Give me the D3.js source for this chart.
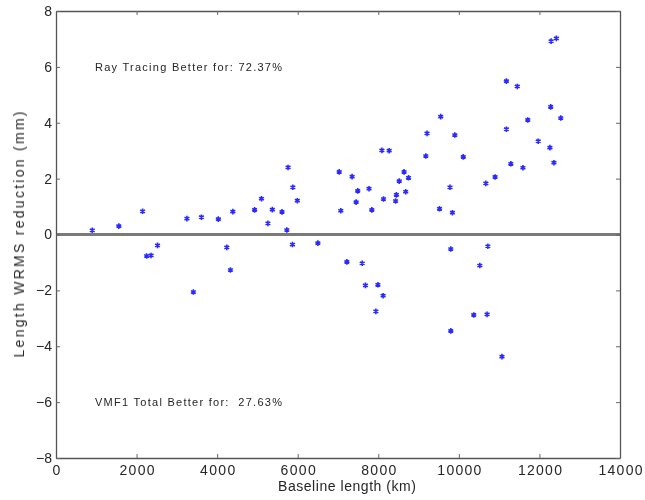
<!DOCTYPE html>
<html>
<head>
<meta charset="utf-8">
<script src="https://cdn.jsdelivr.net/npm/d3@7"></script>
<style>
  html, body { margin: 0; padding: 0; background: #fff; }
  svg { display: block; }
  text { font-family: "Liberation Sans", Arial, sans-serif; fill: #262626; }
</style>
</head>
<body>
<svg id="chart" width="645" height="500"></svg>
<script>
// Baseline length (km) for each baseline
const baselineKm = [
  900, 1560, 2150, 2250, 2360, 2520, 3250, 3410, 3610, 4030,
  4240, 4330, 4390, 4930, 5100, 5260, 5370, 5610, 5760, 5730,
  5880, 5870, 5990, 6500, 7030, 7350, 7070, 7490, 7450, 7770,
  7840, 8090, 8270, 8130, 8450, 8430, 8520, 8640, 8750, 8680,
  9210, 9900, 9180, 10110, 9780, 9520, 9840, 9800, 7220, 7600,
  7680, 7990, 8120, 7940, 9800, 10370, 10520, 9550, 12290, 12420,
  11180, 11450, 12280, 11710, 12530, 11180, 11970, 12260, 11290, 11590,
  12360, 10900, 10670, 10720, 10700, 11070
];
// Length WRMS reduction (mm) for the same baselines
const wrmsReduction = [
  0.15, 0.30, 0.83, -0.77, -0.75, -0.39, 0.57, -2.06, 0.62, 0.55,
  -0.46, -1.27, 0.82, 0.88, 1.28, 0.40, 0.89, 0.81, 2.40, 0.16,
  1.69, -0.36, 1.21, -0.31, 2.24, 2.07, 0.85, 1.56, 1.16, 1.64,
  0.88, 3.01, 3.00, 1.27, 1.42, 1.20, 1.91, 2.24, 2.03, 1.53,
  3.62, 3.56, 2.81, 2.78, 1.69, 0.92, 0.78, -0.52, -0.98, -1.03,
  -1.82, -1.80, -2.19, -2.75, -3.45, -2.88, -1.11, 4.22, 6.92, 7.02,
  5.49, 5.30, 4.57, 4.10, 4.17, 3.77, 3.34, 3.11, 2.53, 2.39,
  2.57, 2.06, 1.83, -0.42, -2.86, -4.37
];
const xTicks = [0, 2000, 4000, 6000, 8000, 10000, 12000, 14000];
const yTicks = [-8, -6, -4, -2, 0, 2, 4, 6, 8];
const annotations = [
  { text: "Ray Tracing Better for: 72.37%", y: 6 },
  { text: "VMF1 Total Better for:  27.63%", y: -6 }
];

const svg = d3.select("#chart");
const plotLeft = 56, plotRight = 620, plotTop = 11, plotBottom = 458;

const x = d3.scaleLinear().domain([0, 14000]).range([plotLeft, plotRight]);
const y = d3.scaleLinear().domain([-8, 8]).range([plotBottom, plotTop]);

const defs = svg.append("defs");
defs.append("filter").attr("id", "soft")
  .attr("x", "-50%").attr("y", "-50%").attr("width", "200%").attr("height", "200%")
  .append("feGaussianBlur").attr("stdDeviation", 0.55);
defs.append("filter").attr("id", "softText")
  .append("feGaussianBlur").attr("stdDeviation", 0.3);

// Zero reference line
svg.append("line")
  .attr("x1", x(0)).attr("x2", x(14000))
  .attr("y1", y(0)).attr("y2", y(0))
  .attr("stroke", "#7a7a7a").attr("stroke-width", 3);

// Axes (ticks inward, mirrored on top/right)
const tickLen = 4;
const axisBottom = d3.axisBottom(x).tickValues(xTicks).tickSizeInner(-tickLen).tickSizeOuter(0).tickPadding(7).tickFormat(d3.format("d"));
const axisTop = d3.axisTop(x).tickValues(xTicks).tickSizeInner(-tickLen).tickSizeOuter(0).tickFormat("");
const axisLeft = d3.axisLeft(y).tickValues(yTicks).tickSizeInner(-tickLen).tickSizeOuter(0).tickPadding(4)
  .tickFormat(d => d < 0 ? "\u2212" + Math.abs(d) : String(d));
const axisRight = d3.axisRight(y).tickValues(yTicks).tickSizeInner(-tickLen).tickSizeOuter(0).tickFormat("");

function styleAxis(g) {
  g.select(".domain").attr("stroke", "#555").attr("stroke-width", 1.3);
  g.selectAll(".tick line").attr("stroke", "#666");
  g.selectAll(".tick text").attr("font-size", 14).attr("fill", "#262626")
    .attr("font-family", "'Liberation Sans', Arial, sans-serif")
    .attr("filter", "url(#softText)");
}

const gx = svg.append("g").attr("transform", `translate(0,${plotBottom})`).call(axisBottom).call(styleAxis);
// wide digit spacing on the baseline-length labels
gx.selectAll(".tick text").each(function () {
  const n = this.textContent.length;
  d3.select(this).attr("textLength", n * 8.8).attr("lengthAdjust", "spacing");
});
svg.append("g").attr("transform", `translate(0,${plotTop})`).call(axisTop).call(styleAxis);
svg.append("g").attr("transform", `translate(${plotLeft},0)`).call(axisLeft).call(styleAxis);
svg.append("g").attr("transform", `translate(${plotRight},0)`).call(axisRight).call(styleAxis);

// Data markers: asterisks
const star = svg.append("g").attr("filter", "url(#soft)");
const pts = baselineKm.map((b, i) => ({ b, v: wrmsReduction[i] }));
const s = 2.8;
const starPath = `M0,${-s}L0,${s}M${-s * 0.87},${-s * 0.5}L${s * 0.87},${s * 0.5}M${-s * 0.87},${s * 0.5}L${s * 0.87},${-s * 0.5}`;
star.selectAll("path").data(pts).enter().append("path")
  .attr("transform", d => `translate(${x(d.b)},${y(d.v)})`)
  .attr("d", starPath)
  .attr("stroke", "#2b2bff").attr("stroke-width", 1.6).attr("fill", "none");

// Annotations
svg.selectAll("text.note").data(annotations).enter().append("text")
  .attr("class", "note")
  .attr("x", 95).attr("y", d => y(d.y))
  .attr("dy", "0.38em")
  .attr("font-size", 11)
  .attr("textLength", 187).attr("lengthAdjust", "spacing")
  .attr("xml:space", "preserve")
  .style("white-space", "pre")
  .attr("filter", "url(#softText)")
  .text(d => d.text);

// Axis titles
svg.append("text")
  .attr("x", 347).attr("y", 491)
  .attr("text-anchor", "middle").attr("font-size", 14)
  .attr("textLength", 138).attr("lengthAdjust", "spacing")
  .attr("filter", "url(#softText)")
  .text("Baseline length (km)");
svg.append("text")
  .attr("transform", `translate(24,${(plotTop + plotBottom) / 2}) rotate(-90)`)
  .attr("text-anchor", "middle").attr("font-size", 14)
  .attr("textLength", 246).attr("lengthAdjust", "spacing")
  .attr("filter", "url(#softText)")
  .text("Length WRMS reduction (mm)");
</script>
</body>
</html>
